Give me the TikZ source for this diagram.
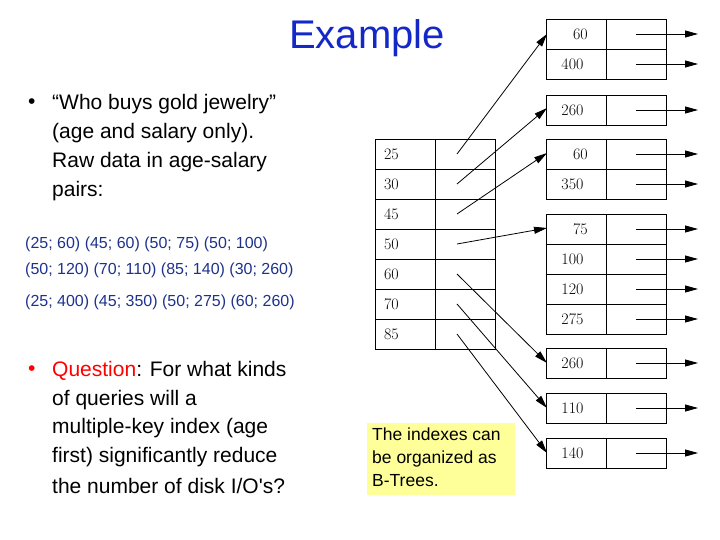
\documentclass[tikz,border=0pt]{standalone}
\usepackage{fontspec}
\setmainfont{Liberation Sans}
\newfontfamily\lmr{Latin Modern Roman}
\usetikzlibrary{arrows.meta}
\definecolor{ttl}{RGB}{20,40,200}
\definecolor{dat}{RGB}{30,50,140}
\definecolor{yel}{RGB}{255,255,153}
\tikzset{
 cell/.style={draw,line width=0.9pt,minimum width=60pt,minimum height=30pt,inner sep=0pt,font=\lmr\fontsize{16}{16}\selectfont},
 ptr/.style={-{Triangle[length=13pt,width=7pt]},line width=0.8pt},
 bl/.style={anchor=west,font=\fontsize{21}{25}\selectfont,inner sep=0pt},
 dt/.style={anchor=west,font=\fontsize{16}{18}\selectfont,text=dat,inner sep=0pt}
}
\begin{document}
\begin{tikzpicture}[x=1pt,y=-1pt]
\useasboundingbox (0,0) rectangle (720,540);
\node[font=\fontsize{40}{40}\selectfont,text=ttl] (title) at (367,38) {Example};
\node[bl] (b1) at (28,104) {•};
\node[bl] (l1) at (52,104) {“Who buys gold jewelry”};
\node[bl] (l2) at (52,133) {(age and salary only).};
\node[bl] (l3) at (52,162) {Raw data in age-salary};
\node[bl] (l4) at (52,191) {pairs:};
\node[dt] (d1) at (25,244) {(25; 60) (45; 60) (50; 75) (50; 100)};
\node[dt] (d2) at (25,270) {(50; 120) (70; 110) (85; 140) (30; 260)};
\node[dt] (d3) at (25,302) {(25; 400) (45; 350) (50; 275) (60; 260)};
\node[bl,text=red] (b2) at (28,371) {•};
\node[bl] (q1) at (52,371) {\textcolor{red}{Question}: For what kinds};
\node[bl] (q2) at (52,400) {of queries will a};
\node[bl] (q3) at (52,428) {multiple-key index (age};
\node[bl] (q4) at (52,457) {first) significantly reduce};
\node[bl] (q5) at (52,486) {the number of disk I/O\textquotesingle s?};
\node[fill=yel,minimum width=148pt,minimum height=72pt,anchor=north west] (yb) at (367,423) {};
\node[anchor=north west,align=left,font=\fontsize{17.5}{23}\selectfont,inner sep=0pt] (yt) at (372,428) {The indexes can\\be organized as\\B-Trees.};
% left table
\foreach \v [count=\i] in {25,30,45,50,60,70,85}{
  \node[cell,anchor=north west] (k\i) at (375,{139+(\i-1)*30}) {\hspace*{-28pt}\v};
  \node[cell,anchor=north west] (p\i) at (435,{139+(\i-1)*30}) {};
  \coordinate (s\i) at (457,{154+(\i-1)*30});
}
% right boxes
\foreach \v/\y [count=\j] in {60/19,400/49,260/95,60/139,350/169,75/214,100/244,120/274,275/304,260/348,110/393,140/438}{
  \node[cell,anchor=north west] (r\j) at (546,\y) {\hspace*{\ifnum\v<100 8pt\else -8pt\fi}\v};
  \node[cell,anchor=north west] (q\j) at (606,\y) {};
  \coordinate (a\j) at (636,\y+15);
  \coordinate (e\j) at (698,\y+15);
  \draw[ptr] (a\j) -- (e\j);
}
\coordinate (t1) at (547,34);
\coordinate (t2) at (547,108);
\coordinate (t3) at (547,153);
\coordinate (t4) at (547,228);
\coordinate (t5) at (547,363);
\coordinate (t6) at (547,408);
\coordinate (t7) at (547,453);
\foreach \i in {1,...,7}{\draw[ptr] (s\i) -- (t\i);}
\end{tikzpicture}
\end{document}
